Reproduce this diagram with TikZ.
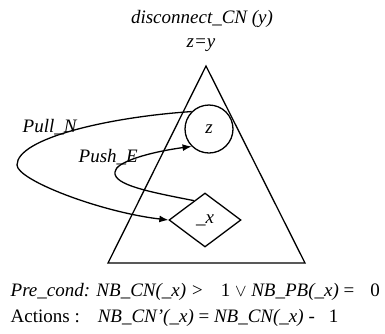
\documentclass[tikz,border=0pt]{standalone}
\usepackage{fontspec}
\setmainfont{Liberation Serif}
\usetikzlibrary{shapes.geometric,arrows.meta,calc}
\begin{document}
\begin{tikzpicture}[x=1pt,y=-1pt,line width=1.3pt,
  txt/.style={font=\fontsize{19}{22}\selectfont, inner sep=0pt},
  arr/.style={-{Latex[length=9pt,width=7pt]}}]
\useasboundingbox (0,0) rectangle (385,333);
% triangle
\coordinate (apex) at (206,66);
\coordinate (bl) at (108,263);
\coordinate (br) at (305,263);
\draw[line join=miter] (apex) -- (bl) -- (br) -- cycle;
% nodes
\node[circle, draw, minimum size=48pt, inner sep=0pt, txt] (z) at (209,129) {\textit{z}};
\node[diamond, draw, minimum width=72pt, minimum height=54pt, inner sep=0pt, txt] (x) at (205,220) {\textit{\_x}};
% texts
\node[txt, anchor=base] (title) at (202,23) {\textit{disconnect\_CN (y)}};
\node[txt, anchor=base] (zy) at (201,47) {\textit{z=y}};
\node[txt, anchor=base west] (pull) at (22,132) {\textit{Pull\_N}};
\node[txt, anchor=base west] (push) at (78,162) {\textit{Push\_E}};
\node[txt, anchor=base west] (pre) at (10,296) {\textit{Pre\_cond: NB\_CN(\_x) >}\hspace{17pt}1 $\vee$ \textit{NB\_PB(\_x)} =\hspace{16pt}0};
\node[txt, anchor=base west] (act) at (10,322) {Actions :\hspace{18pt}\textit{NB\_CN’(\_x)} = \textit{NB\_CN(\_x)} -\hspace{14pt}1};
% connectors
\coordinate (pl) at (17,165);
\draw[arr] (z.135) .. controls (110,117) and (17,138) .. (pl)
  .. controls (17,180) and (100,212) .. (x.west);
\coordinate (ps) at ($(x.west)!0.7!(x.north)$);
\coordinate (pm) at (115,172);
\draw[arr] (ps) .. controls (150,192) and (113,185) .. (pm)
  .. controls (115,162) and (150,152) .. (z.225);
\end{tikzpicture}
\end{document}
